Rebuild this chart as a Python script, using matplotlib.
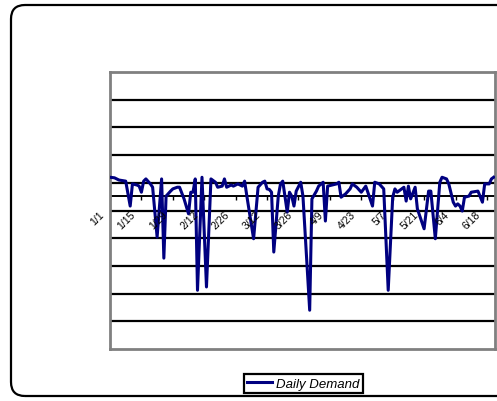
import matplotlib
matplotlib.use("Agg")
import matplotlib.pyplot as plt
from matplotlib.patches import FancyBboxPatch
from matplotlib.lines import Line2D
from matplotlib.transforms import IdentityTransform
import matplotlib.markers as mk

# giorni dal 1/1 e domanda giornaliera
days = [0, 2, 4, 7, 9, 10, 12, 13, 14, 15, 16, 18, 19, 21, 23, 24, 25, 27, 28, 30,
        31, 33, 35, 36, 37, 38, 39, 41, 43, 45, 47, 48, 50, 51, 52, 54, 55, 57, 59, 60,
        61, 64, 66, 68, 69, 70, 71, 72, 73, 75, 76, 77, 79, 80, 81, 82, 83, 85, 86, 89,
        90, 92, 93, 95, 96, 97, 99, 101, 102, 103, 105, 107, 108, 110, 112, 114, 117, 118, 120, 122,
        124, 126, 127, 128, 130, 131, 132, 133, 134, 136, 137, 140, 142, 143, 145, 147, 148, 150, 151, 153,
        154, 155, 156, 157, 158, 160, 161, 164, 166, 167, 169, 170, 171]
demand = [310, 309, 305, 303, 258, 298, 296, 294, 283, 303, 307, 298, 292, 202, 307, 164, 276, 285, 289, 292,
          292, 271, 244, 283, 283, 307, 106, 310, 112, 307, 301, 292, 294, 307, 292, 296, 294, 298, 294, 303,
          276, 199, 292, 301, 303, 289, 288, 283, 175, 276, 298, 303, 247, 283, 276, 258, 285, 301, 276, 70,
          271, 285, 294, 301, 231, 294, 296, 298, 301, 274, 280, 289, 298, 292, 283, 294, 258, 301, 298, 289,
          106, 274, 289, 283, 289, 292, 267, 294, 271, 292, 253, 217, 285, 285, 199, 301, 310, 307, 298, 265,
          258, 262, 258, 249, 274, 276, 283, 285, 265, 298, 298, 307, 310]

tick_days = [0, 14, 28, 42, 56, 70, 84, 98, 112, 126, 140, 154, 168]
tick_labels = ["1/1", "1/15", "1/29", "2/12", "2/26", "3/12", "3/26", "4/9",
               "4/23", "5/7", "5/21", "6/4", "6/18"]
grid_vals = [50, 100, 150, 200, 250, 300, 350, 400, 450]
axis_cross = 276

W, H = 497, 402
fig = plt.figure(figsize=(W / 100, H / 100), dpi=100)
fig.patch.set_facecolor("white")

# cornice esterna arrotondata (il lato destro esce dall'immagine)
frame = FancyBboxPatch((11, H - 397), 540, 391, boxstyle="round,pad=0,rounding_size=14",
                       transform=IdentityTransform(), fill=False, ec="black", lw=1.6, zorder=0)
fig.patches.append(frame)

ax = fig.add_axes([110 / W, (H - 350) / H, (495 - 110) / W, (350 - 73) / H])
ax.set_xlim(0, 171.6)
ax.set_ylim(0, 500)
for v in grid_vals:
    ax.axhline(v, color="black", lw=1.6, zorder=1)
ax.axhline(axis_cross, color="black", lw=1.4, zorder=1)
ax.plot(tick_days, [axis_cross] * len(tick_days), ls="none", marker=mk.TICKDOWN,
        ms=3, mew=1, color="black", zorder=1)

ax.plot(days, demand, color="#000080", lw=2.2, zorder=3, solid_joinstyle="round")

for d, lab in zip(tick_days, tick_labels):
    ax.annotate(lab, (d, axis_cross), xytext=(-3, -9.5), textcoords="offset points",
                rotation=45, ha="right", va="top", fontsize=7.5,
                family="Liberation Sans", annotation_clip=False)

ax.set_xticks([]); ax.set_yticks([])
for s in ax.spines.values():
    s.set_color("#808080"); s.set_linewidth(2)

leg_handle = [Line2D([0], [0], color="#000080", lw=2.2, label="Daily Demand")]
leg = fig.legend(handles=leg_handle, loc="center", bbox_to_anchor=(303.5 / W, 1 - 384.5 / H),
                 frameon=True, fancybox=False, edgecolor="black", framealpha=1,
                 handlelength=1.9, handletextpad=0.3, borderpad=0.25, borderaxespad=0,
                 prop={"family": "Liberation Sans", "style": "italic", "size": 9.5})
leg.get_frame().set_linewidth(1.6)

fig.savefig("out.png", dpi=100)
plt.close(fig)
